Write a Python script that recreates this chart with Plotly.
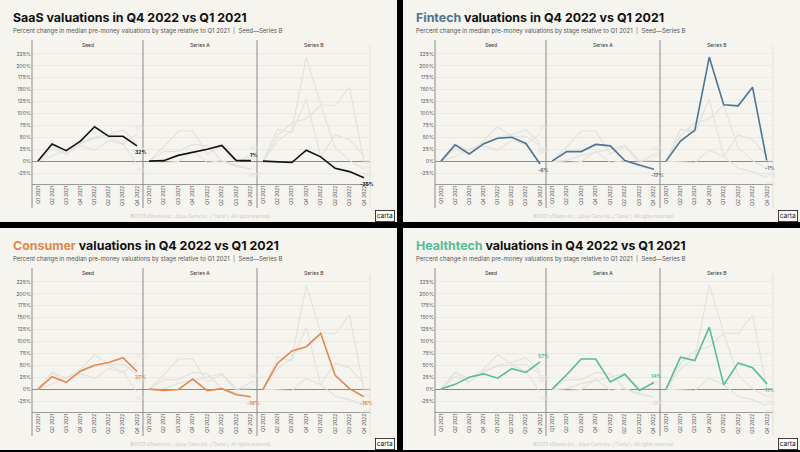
import plotly.graph_objects as go

quarters = ["Q1 2021", "Q2 2021", "Q3 2021", "Q4 2021", "Q1 2022", "Q2 2022", "Q3 2022", "Q4 2022"]
stages = ["Seed", "Series A", "Series B"]
sectors = ["SaaS", "Fintech", "Consumer", "Healthtech"]
sector_colors = ["#111111", "#4d7494", "#e3884a", "#56bd98"]

# percent change vs Q1 2021
saas_seed = [0, 36, 22, 42, 72, 52, 52, 32]
saas_a = [0, 1, 12, 18, 25, 33, 1, 1]
saas_b = [0, -2, -3, 23, 9, -15, -22, -35]

fintech_seed = [0, 34, 15, 36, 48, 50, 37, -6]
fintech_a = [0, 20, 20, 35, 32, 1, -8, -17]
fintech_b = [0, 42, 65, 218, 118, 116, 155, -1]

consumer_seed = [0, 26, 14, 38, 50, 56, 66, 37]
consumer_a = [0, -3, -1, 21, -3, 1, -12, -16]
consumer_b = [0, 54, 80, 89, 117, 29, 1, -16]

health_seed = [0, 10, 25, 32, 23, 43, 35, 57]
health_a = [0, 30, 63, 63, 15, 31, -3, 14]
health_b = [0, 67, 60, 130, 9, 55, 45, 11]

data = {
    "SaaS": [saas_seed, saas_a, saas_b],
    "Fintech": [fintech_seed, fintech_a, fintech_b],
    "Consumer": [consumer_seed, consumer_a, consumer_b],
    "Healthtech": [health_seed, health_a, health_b],
}

y_ticks = [-25, 0, 25, 50, 75, 100, 125, 150, 175, 200, 225]

W, H = 800, 452
def px(x):
    return x / W
def py(y):
    return 1 - y / H

panel_origins = [(0, 0), (403, 0), (0, 228), (403, 228)]
facet_x = [(32, 143), (143, 257), (257, 370)]
bg = "#f6f4ef"
faint = "#e3e1dc"
font = "Inter"

fig = go.Figure()
shapes = []
annotations = []
layout_axes = {}

n = 0
for p, sector in enumerate(sectors):
    ox, oy = panel_origins[p]
    focus_color = sector_colors[p]
    shapes.append(dict(type="rect", xref="paper", yref="paper", x0=px(ox), x1=px(ox + 397),
                       y0=py(oy + 222), y1=py(oy), fillcolor=bg, line_width=0, layer="below"))
    annotations.append(dict(
        xref="paper", yref="paper", x=px(ox + 11), y=py(oy + 17), xanchor="left", yanchor="middle",
        text=f"<b><span style='color:{focus_color if sector != 'SaaS' else '#111'}'>{sector}</span> valuations in Q4 2022 vs Q1 2021</b>",
        showarrow=False, font=dict(size=12.4, color="#111", family=font)))
    annotations.append(dict(
        xref="paper", yref="paper", x=px(ox + 11), y=py(oy + 31), xanchor="left", yanchor="middle",
        text="Percent change in median pre-money valuations by stage relative to Q1 2021  |  Seed\u2014Series B",
        showarrow=False, font=dict(size=6, color="#555", family=font)))
    annotations.append(dict(
        xref="paper", yref="paper", x=px(ox + 200), y=py(oy + 216), xanchor="center", yanchor="middle",
        text="\u00a92023 eShares Inc., d/b/a Carta Inc. (\u201cCarta\u201d). All rights reserved.",
        showarrow=False, font=dict(size=4.5, color="#c9c7c2", family=font)))
    annotations.append(dict(
        xref="paper", yref="paper", x=px(ox + 385), y=py(oy + 215.5), xanchor="center", yanchor="middle",
        text="carta", showarrow=False, font=dict(size=6.5, color="#111", family=font),
        bordercolor="#111", borderwidth=0.8, borderpad=1, bgcolor="#fbfaf7"))
    for fx in (32, 143, 257):
        shapes.append(dict(type="line", xref="paper", yref="paper", x0=px(ox + fx), x1=px(ox + fx),
                           y0=py(oy + 208), y1=py(oy + 40), line=dict(color="#8a8a8a", width=1)))
    shapes.append(dict(type="line", xref="paper", yref="paper", x0=px(ox + 370), x1=px(ox + 370),
                       y0=py(oy + 208), y1=py(oy + 46), line=dict(color="#e2e0db", width=1)))

    for s, stage in enumerate(stages):
        n += 1
        xa = "xaxis" if n == 1 else f"xaxis{n}"
        ya = "yaxis" if n == 1 else f"yaxis{n}"
        xr = "x" if n == 1 else f"x{n}"
        yr = "y" if n == 1 else f"y{n}"
        x0, x1 = facet_x[s]
        layout_axes[xa] = dict(
            domain=[px(ox + x0), px(ox + x1)], anchor=yr, range=[-0.42, 7.42],
            tickvals=list(range(len(quarters))), ticktext=quarters, tickangle=-90,
            tickfont=dict(size=4.8, color="#555", family=font), showgrid=False, zeroline=False,
            showline=True, linecolor="#9a9a9a", linewidth=1, ticks="", fixedrange=True,
            ticklabelstandoff=-1)
        layout_axes[ya] = dict(
            domain=[py(oy + 184), py(oy + 40)], anchor=xr, range=[-48, 254],
            tickvals=y_ticks, ticktext=[f"{v}%" for v in y_ticks],
            showticklabels=(s == 0), tickfont=dict(size=5.2, color="#555", family=font),
            showgrid=True, gridcolor="#ebe9e4", gridwidth=1, zeroline=True,
            zerolinecolor="#8a8a8a", zerolinewidth=1, ticks="", fixedrange=True)
        annotations.append(dict(
            xref="paper", yref="paper", x=px(ox + (x0 + x1) / 2), y=py(oy + 45), xanchor="center",
            yanchor="middle", text=stage, showarrow=False,
            font=dict(size=5, color="#333", family=font)))

        order = [k for k in range(len(sectors)) if k != p] + [p]
        for k in order:
            vals = data[sectors[k]][s]
            is_focus = k == p
            color = sector_colors[k] if is_focus else faint
            fig.add_trace(go.Scatter(
                x=list(range(len(quarters))), y=vals, xaxis=xr, yaxis=yr, mode="lines",
                line=dict(color=color, width=1.6 if is_focus else 1.1),
                showlegend=False, hoverinfo="skip"))
            above = vals[-1] >= vals[-2]
            label = f"{vals[-1]}%"
            annotations.append(dict(
                x=len(quarters) - 1, y=vals[-1], xref=xr, yref=yr,
                text=f"<b>{label}</b>" if is_focus else label,
                showarrow=False, xanchor="center", yanchor="bottom" if above else "top",
                xshift=3, yshift=1 if above else -1,
                font=dict(size=5, color=color, family=font)))

fig.update_layout(
    width=W, height=H, margin=dict(l=0, r=0, t=0, b=0),
    paper_bgcolor="#000000", plot_bgcolor="rgba(0,0,0,0)",
    shapes=shapes, annotations=annotations, **layout_axes)

# drop the page's default body margin so the figure sits flush in the window
fig.write_html("out.html", config={"displayModeBar": False},
               post_script="document.body.style.margin='0';document.body.style.background='#000';")
